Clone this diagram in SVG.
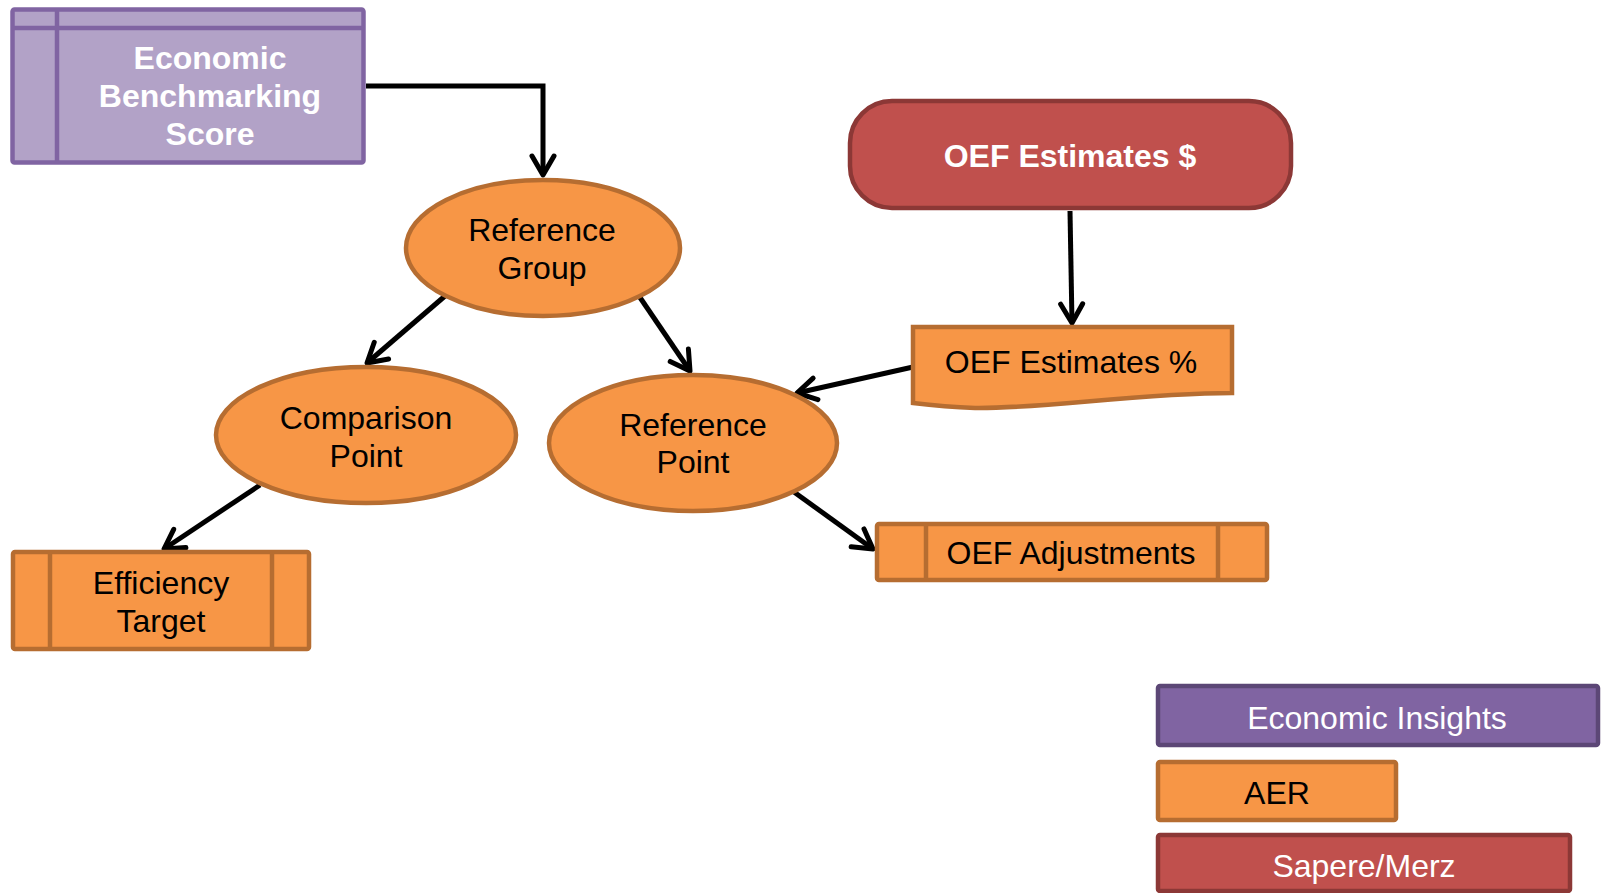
<svg xmlns="http://www.w3.org/2000/svg" width="1601" height="893" viewBox="0 0 1601 893">
<style>
text{font-family:"Liberation Sans",Arial,sans-serif;font-size:32px;text-anchor:middle}
.dk{fill:#000}
.wt{fill:#fff}
.b{font-weight:bold}
.or{fill:#F79646;stroke:#B66D31;stroke-width:4.5}
.orl{fill:none;stroke:#B66D31;stroke-width:4.5}
.pu{fill:#B2A2C7;stroke:#8064A2;stroke-width:4.5}
.pul{fill:none;stroke:#8064A2;stroke-width:4.5}
.pu2{fill:#8064A2;stroke:#5C4776;stroke-width:4.5}
.rd{fill:#C0504D;stroke:#8C3836;stroke-width:4.5}
.cn{fill:none;stroke:#000;stroke-width:5;marker-end:url(#arr)}
</style>
<defs>
<marker id="arr" markerUnits="userSpaceOnUse" markerWidth="50" markerHeight="50" viewBox="-25 -25 50 50" refX="0" refY="0" orient="auto" overflow="visible">
<path d="M-19,-11 L0,0 L-19,11" fill="none" stroke="#000" stroke-width="5" stroke-linecap="round" stroke-linejoin="round"/>
</marker>
</defs>
<g id="connectors">
<path class="cn" d="M366,86 H543 V175"/>
<path class="cn" d="M445,296 L367,363"/>
<path class="cn" d="M639,296 L690,371"/>
<path class="cn" d="M260,485 L164,549"/>
<path class="cn" d="M1070,211 L1072,323"/>
<path class="cn" d="M913,367 L797,393"/>
<path class="cn" d="M794,492 L873,549"/>
</g>
<g id="ebs">
<rect class="pu" x="12.5" y="9.5" width="351" height="153" rx="2"/>
<line class="pul" x1="57" y1="9.5" x2="57" y2="162.5"/>
<line class="pul" x1="12.5" y1="28" x2="363.5" y2="28"/>
<text class="wt b" x="210" y="69">Economic</text>
<text class="wt b" x="210" y="107">Benchmarking</text>
<text class="wt b" x="210" y="145">Score</text>
</g>
<g id="refgroup">
<ellipse class="or" cx="543" cy="248" rx="137" ry="68"/>
<text class="dk" x="542" y="241">Reference</text>
<text class="dk" x="542" y="279">Group</text>
</g>
<g id="comparison">
<ellipse class="or" cx="366" cy="435" rx="150" ry="68"/>
<text class="dk" x="366" y="429">Comparison</text>
<text class="dk" x="366" y="467">Point</text>
</g>
<g id="refpoint">
<ellipse class="or" cx="693" cy="443" rx="144" ry="68"/>
<text class="dk" x="693" y="436">Reference</text>
<text class="dk" x="693" y="473">Point</text>
</g>
<g id="efficiency">
<rect class="or" x="13" y="552" width="296" height="97" rx="2"/>
<line class="orl" x1="50" y1="552" x2="50" y2="649"/>
<line class="orl" x1="272" y1="552" x2="272" y2="649"/>
<text class="dk" x="161" y="594">Efficiency</text>
<text class="dk" x="161" y="632">Target</text>
</g>
<g id="oefdollar">
<rect class="rd" x="850" y="101" width="441" height="107" rx="42"/>
<text class="wt b" x="1070" y="167">OEF Estimates $</text>
</g>
<g id="oefpct">
<path class="or" d="M913,327 H1232 V393 C1140,393 1040,409 975,408 C950,407 930,405 913,403 Z"/>
<text class="dk" x="1071" y="373">OEF Estimates %</text>
</g>
<g id="oefadj">
<rect class="or" x="877" y="524" width="390" height="56" rx="2"/>
<line class="orl" x1="926" y1="524" x2="926" y2="580"/>
<line class="orl" x1="1218" y1="524" x2="1218" y2="580"/>
<text class="dk" x="1071" y="564">OEF Adjustments</text>
</g>
<g id="legend-ei">
<rect class="pu2" x="1158" y="686" width="440" height="59" rx="2"/>
<text class="wt" x="1377" y="729">Economic Insights</text>
</g>
<g id="legend-aer">
<rect class="or" x="1158" y="762" width="238" height="58" rx="2"/>
<text class="dk" x="1277" y="804">AER</text>
</g>
<g id="legend-sm">
<rect class="rd" x="1158" y="835" width="412" height="56" rx="2"/>
<text class="wt" x="1364" y="877">Sapere/Merz</text>
</g>
</svg>
